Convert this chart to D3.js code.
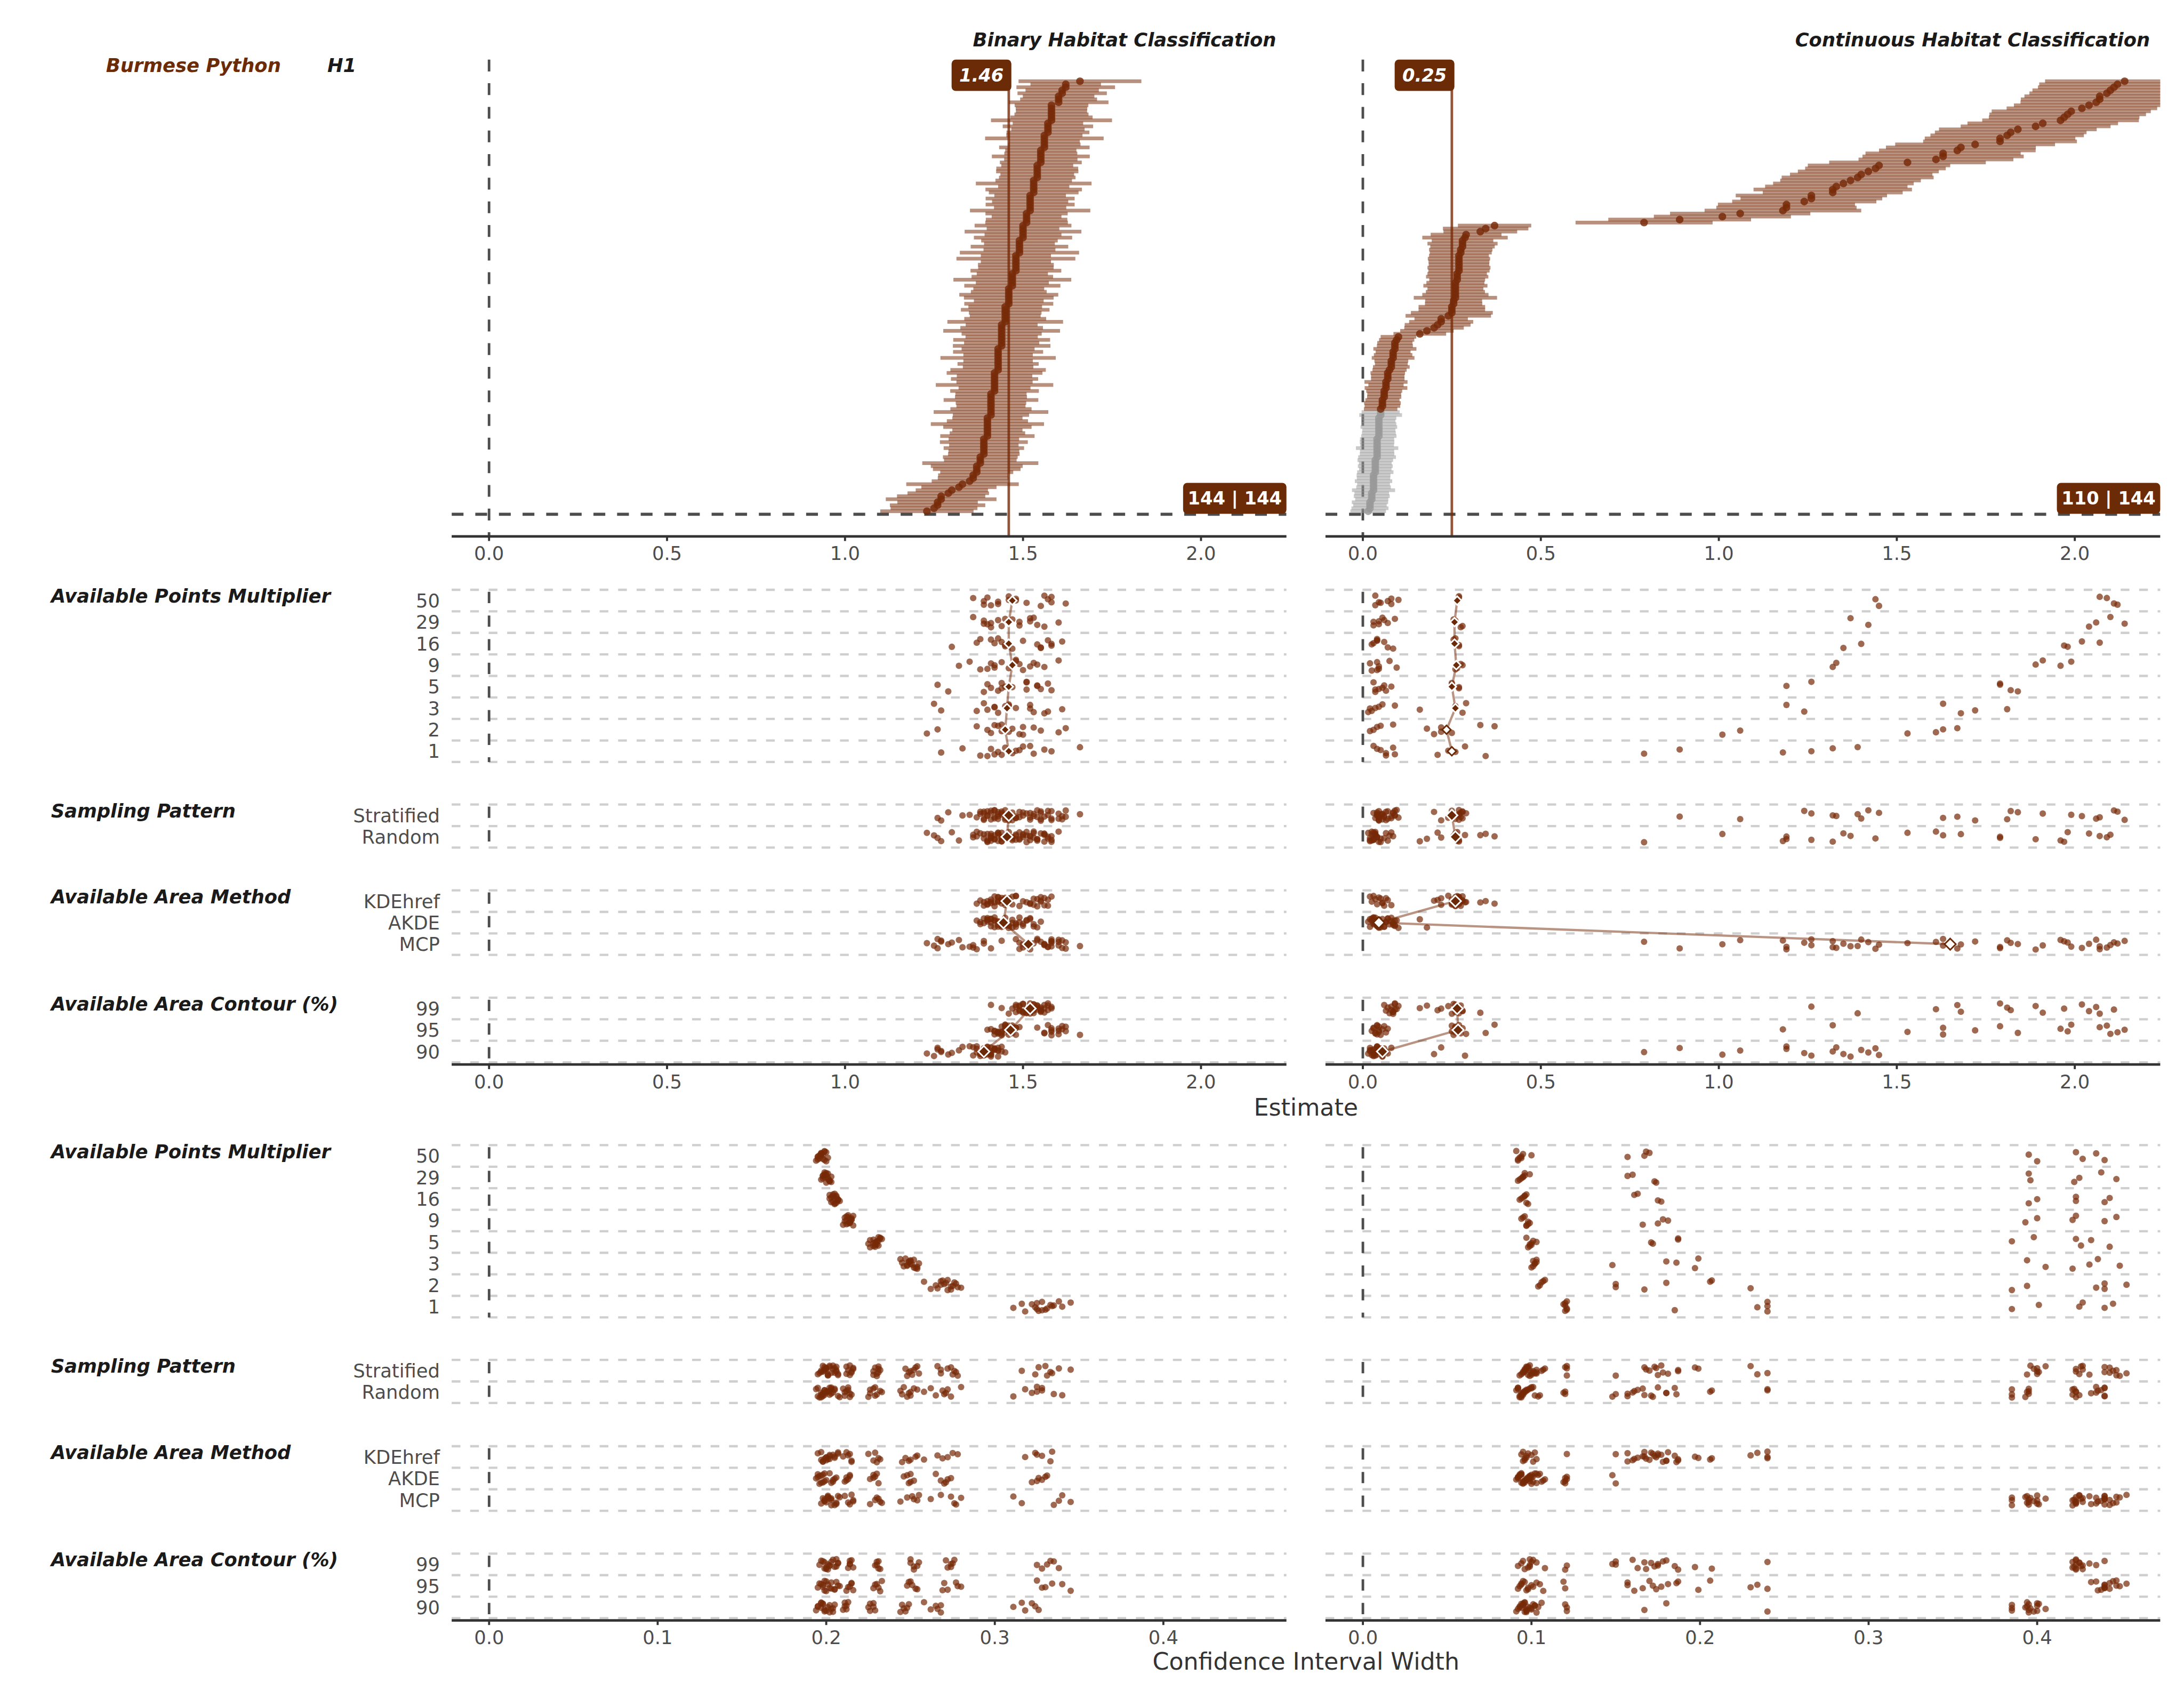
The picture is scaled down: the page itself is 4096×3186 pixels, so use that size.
<!DOCTYPE html>
<html><head><meta charset="utf-8">
<script src="https://cdn.jsdelivr.net/npm/d3@7"></script>
<style>
body{margin:0;background:#fff}
svg{display:block}
text{font-family:"DejaVu Sans",sans-serif}
</style>
</head><body>
<svg id="c" width="4096" height="3186" viewBox="0 0 4251 3307"></svg>
<script>
// ---------------- DATA ----------------
const speciesName = "Burmese Python";
const hypothesis = "H1";
const panelTitles = ["Binary Habitat Classification", "Continuous Habitat Classification"];
const multipliers = ["1", "2", "3", "5", "9", "16", "29", "50"];
const samplings = ["Random", "Stratified"];
const methods = ["MCP", "AKDE", "KDEhref"];
const contours = ["90", "95", "99"];
const overallMedian = [1.46, 0.25];

// each inner array: 16 models ordered multiplier 1,2,3,5,9,16,29,50 x sampling Random,Stratified
// grouped [method][contour]
const binaryEstimate = [
  [ // MCP
    [1.27,1.33,1.23,1.26,1.25,1.27,1.26,1.29,1.32,1.35,1.30,1.37,1.36,1.39,1.36,1.39],
    [1.58,1.66,1.60,1.62,1.56,1.61,1.57,1.58,1.54,1.60,1.58,1.61,1.56,1.60,1.58,1.62],
    [1.49,1.52,1.44,1.50,1.53,1.48,1.51,1.55,1.41,1.50,1.54,1.57,1.49,1.52,1.56,1.58]
  ],
  [ // AKDE
    [1.41,1.38,1.40,1.43,1.37,1.42,1.39,1.41,1.44,1.40,1.42,1.38,1.40,1.43,1.41,1.39],
    [1.45,1.42,1.47,1.44,1.40,1.46,1.43,1.45,1.48,1.42,1.44,1.47,1.41,1.45,1.43,1.46],
    [1.50,1.47,1.53,1.49,1.52,1.46,1.51,1.54,1.48,1.52,1.50,1.55,1.49,1.53,1.51,1.48]
  ],
  [ // KDEhref
    [1.40,1.43,1.37,1.41,1.42,1.39,1.44,1.40,1.38,1.42,1.41,1.45,1.39,1.41,1.43,1.40],
    [1.44,1.48,1.42,1.46,1.45,1.43,1.47,1.44,1.46,1.49,1.43,1.45,1.47,1.44,1.48,1.46],
    [1.53,1.56,1.50,1.55,1.52,1.57,1.54,1.51,1.56,1.53,1.55,1.58,1.52,1.54,1.57,1.55]
  ]
];
const binaryWidth = [
  [
    [0.311,0.316,0.262,0.268,0.244,0.248,0.226,0.229,0.211,0.213,0.203,0.205,0.199,0.201,0.197,0.199],
    [0.340,0.345,0.280,0.277,0.254,0.251,0.233,0.231,0.215,0.216,0.208,0.206,0.203,0.201,0.200,0.198],
    [0.335,0.338,0.274,0.276,0.252,0.255,0.232,0.230,0.214,0.216,0.207,0.206,0.202,0.203,0.199,0.201]
  ],
  [
    [0.322,0.326,0.265,0.268,0.246,0.249,0.226,0.228,0.211,0.212,0.202,0.204,0.197,0.198,0.194,0.195],
    [0.325,0.330,0.270,0.272,0.248,0.250,0.228,0.230,0.212,0.214,0.203,0.205,0.198,0.199,0.195,0.196],
    [0.328,0.331,0.271,0.274,0.250,0.252,0.229,0.231,0.213,0.214,0.204,0.206,0.199,0.200,0.196,0.197]
  ],
  [
    [0.318,0.324,0.258,0.266,0.245,0.247,0.225,0.228,0.210,0.212,0.202,0.204,0.198,0.200,0.195,0.197],
    [0.328,0.334,0.269,0.278,0.249,0.253,0.229,0.232,0.213,0.215,0.205,0.207,0.200,0.202,0.197,0.199],
    [0.325,0.333,0.272,0.275,0.250,0.254,0.230,0.231,0.214,0.215,0.205,0.207,0.201,0.202,0.198,0.200]
  ]
];
const continuousEstimate = [
  [
    [0.79,0.89,1.01,1.06,1.19,1.24,1.19,1.26,1.32,1.33,1.35,1.40,1.37,1.42,1.44,1.45],
    [1.18,1.32,1.53,1.63,1.63,1.72,1.79,1.84,1.96,1.99,1.98,2.07,2.10,2.14,2.09,2.12],
    [1.26,1.39,1.61,1.67,1.68,1.81,1.79,1.82,1.89,1.91,1.97,2.02,2.04,2.06,2.07,2.11]
  ],
  [
    [0.05,0.03,0.02,0.04,0.015,0.035,0.03,0.045,0.02,0.04,0.025,0.04,0.03,0.045,0.035,0.045],
    [0.04,0.065,0.03,0.05,0.025,0.045,0.035,0.055,0.04,0.045,0.03,0.04,0.045,0.06,0.035,0.07],
    [0.085,0.09,0.18,0.085,0.16,0.09,0.065,0.08,0.075,0.095,0.06,0.085,0.07,0.09,0.08,0.10]
  ],
  [
    [0.287,0.065,0.22,0.20,0.02,0.055,0.035,0.06,0.025,0.045,0.04,0.07,0.03,0.055,0.05,0.08],
    [0.345,0.26,0.37,0.25,0.26,0.29,0.27,0.25,0.26,0.28,0.255,0.27,0.26,0.275,0.265,0.27],
    [0.21,0.24,0.33,0.22,0.26,0.28,0.27,0.25,0.265,0.275,0.26,0.27,0.255,0.28,0.265,0.27]
  ]
];
const continuousWidth = [
  [
    [0.385,0.401,0.385,0.394,0.394,0.405,0.385,0.398,0.393,0.400,0.395,0.400,0.395,0.396,0.395,0.400],
    [0.440,0.445,0.440,0.453,0.436,0.449,0.432,0.443,0.440,0.447,0.440,0.443,0.438,0.447,0.435,0.440],
    [0.425,0.427,0.435,0.440,0.421,0.431,0.423,0.426,0.421,0.423,0.423,0.423,0.422,0.425,0.423,0.427]
  ],
  [
    [0.120,0.121,0.104,0.106,0.100,0.102,0.097,0.099,0.094,0.097,0.093,0.096,0.092,0.095,0.091,0.093],
    [0.119,0.120,0.105,0.107,0.101,0.103,0.098,0.100,0.095,0.098,0.094,0.097,0.093,0.096,0.092,0.094],
    [0.120,0.121,0.150,0.108,0.148,0.101,0.099,0.103,0.096,0.099,0.095,0.098,0.094,0.099,0.092,0.100]
  ],
  [
    [0.240,0.121,0.180,0.167,0.102,0.103,0.100,0.101,0.097,0.098,0.096,0.097,0.095,0.096,0.094,0.095],
    [0.240,0.234,0.206,0.230,0.186,0.199,0.172,0.187,0.166,0.181,0.161,0.177,0.157,0.174,0.157,0.170],
    [0.185,0.240,0.207,0.150,0.180,0.197,0.171,0.187,0.175,0.178,0.163,0.175,0.160,0.173,0.167,0.168]
  ]
];

const factorTitles = ["Available Points Multiplier", "Sampling Pattern", "Available Area Method", "Available Area Contour (%)"];
const factorKeys = ["multiplier", "sampling", "method", "contour"];
const factorLevels = [
  ["50", "29", "16", "9", "5", "3", "2", "1"],
  ["Stratified", "Random"],
  ["KDEhref", "AKDE", "MCP"],
  ["99", "95", "90"]
];
// median diamond fill (1 = filled, 0 = hollow), per panel, per factor, per level (top to bottom)
const diamondFilled = [
  [[1,1,1,1,1,1,1,1],[1,1],[1,1,1],[1,1,1]],
  [[1,1,1,1,1,1,0,0],[1,1],[1,0,0],[1,1,1]]
];
const estimateTicks = [0, 0.5, 1, 1.5, 2];
const widthTicks = [0, 0.1, 0.2, 0.3, 0.4];
const estimateDomain = [-0.105, 2.24];
const widthDomain = [-0.0222, 0.473];

// ---------------- LAYOUT ----------------
const svg = d3.select("#c");
const brown = "#762A07", boxBrown = "#6B2B06", darkLine = "#4D4D4D", axisCol = "#333333";
const panelX = [879, 2580], panelW = 1625;
const topY0 = 116, topY1 = 1044;
const estFactorTop = [1148, 1566, 1733, 1942];
const widFactorTop = [2229, 2647, 2815, 3024];
const band = 41.9;
const estAxisY = 2072, widAxisY = 3154;
const fs = 36.7;
const diamondSize = [8.5, 11, 11, 11];

function buildModels(est, wid) {
  const out = [];
  methods.forEach((m, mi) => contours.forEach((c, ci) => {
    for (let k = 0; k < 16; k++) {
      out.push({method: m, contour: c, multiplier: multipliers[Math.floor(k / 2)],
        sampling: samplings[k % 2], est: est[mi][ci][k], width: wid[mi][ci][k]});
    }
  }));
  out.forEach((d, i) => { d.idx = i; d.lo = d.est - d.width / 2; d.hi = d.est + d.width / 2; d.sig = d.lo > 0; });
  return out;
}
const panelModels = [buildModels(binaryEstimate, binaryWidth), buildModels(continuousEstimate, continuousWidth)];

const defs = svg.append("defs");

// Header texts
svg.append("text").attr("x", 206).attr("y", 140).attr("font-size", fs).attr("font-weight", "bold")
  .attr("font-style", "italic").attr("fill", boxBrown).text(speciesName);
svg.append("text").attr("x", 637).attr("y", 140).attr("font-size", fs).attr("font-weight", "bold")
  .attr("font-style", "italic").attr("fill", "#1a1a1a").text(hypothesis);

function jitter(i, f) {
  const v = ((i + 1) * 0.6180339887 + f * 0.2763932) % 1;
  return (v - 0.5) * 0.5 * band;
}

function drawAxis(g, scale, y, ticks, fmt) {
  g.append("line").attr("x1", scale.range()[0]).attr("x2", scale.range()[1])
    .attr("y1", y).attr("y2", y).attr("stroke", axisCol).attr("stroke-width", 5);
  ticks.forEach(t => {
    g.append("line").attr("x1", scale(t)).attr("x2", scale(t)).attr("y1", y).attr("y2", y + 9)
      .attr("stroke", axisCol).attr("stroke-width", 4);
    g.append("text").attr("x", scale(t)).attr("y", y + 46).attr("text-anchor", "middle")
      .attr("font-size", fs).attr("fill", darkLine).text(fmt(t));
  });
}

function drawFactorPanels(g, models, scale, tops, valueKey, withDiamonds, p) {
  factorKeys.forEach((key, f) => {
    const levels = factorLevels[f];
    const top = tops[f];
    const n = levels.length;
    const x0 = scale.range()[0], x1 = scale.range()[1];
    for (let j = 0; j <= n; j++) {
      g.append("line").attr("x1", x0).attr("x2", x1).attr("y1", top + j * band).attr("y2", top + j * band)
        .attr("stroke", "#CFCFCF").attr("stroke-width", 4.5).attr("stroke-dasharray", "17,19");
    }
    g.append("line").attr("x1", scale(0)).attr("x2", scale(0)).attr("y1", top).attr("y2", top + n * band)
      .attr("stroke", darkLine).attr("stroke-width", 5).attr("stroke-dasharray", "22,24").attr("stroke-dashoffset", -4);
    const yc = lev => top + (levels.indexOf(lev) + 0.5) * band;
    g.append("g").selectAll("circle").data(models).join("circle")
      .attr("cx", d => scale(d[valueKey]))
      .attr("cy", d => yc(d[key]) + jitter(d.idx, f + p * 4))
      .attr("r", 6.3).attr("fill", brown).attr("fill-opacity", 0.7);
    if (withDiamonds) {
      const med = levels.map(l => ({lev: l, m: d3.median(models.filter(d => d[key] === l), d => d[valueKey])}));
      g.append("path").attr("d", d3.line().x(d => scale(d.m)).y(d => yc(d.lev))(med))
        .attr("fill", "none").attr("stroke", brown).attr("stroke-opacity", 0.5).attr("stroke-width", 4.5);
      const s = diamondSize[f];
      med.forEach((d, i) => {
        const cx = scale(d.m), cy = yc(d.lev);
        const filled = diamondFilled[p][f][i] === 1;
        g.append("path").attr("d", `M${cx},${cy - s}L${cx + s},${cy}L${cx},${cy + s}L${cx - s},${cy}Z`)
          .attr("fill", filled ? "#6B2A07" : "#ffffff")
          .attr("stroke", filled ? "#ffffff" : "#6B2A07").attr("stroke-width", 3);
      });
    }
  });
}

panelModels.forEach((models, p) => {
  const x0 = panelX[p], x1 = panelX[p] + panelW;
  const xEst = d3.scaleLinear().domain(estimateDomain).range([x0, x1]);
  const xWid = d3.scaleLinear().domain(widthDomain).range([x0, x1]);
  const g = svg.append("g");

  g.append("text").attr("x", x1 - 20).attr("y", 90).attr("text-anchor", "end")
    .attr("font-size", fs).attr("font-weight", "bold").attr("font-style", "italic")
    .attr("fill", "#1a1a1a").text(panelTitles[p]);

  // ---- top panel: sorted estimates with CIs ----
  const sorted = models.slice().sort((a, b) => a.est - b.est);
  sorted.forEach((d, i) => d.row = i + 1);
  const yRow = d3.scaleLinear().domain([-7.35, 151.2]).range([topY1, topY0]);
  const clipId = "clip" + p;
  defs.append("clipPath").attr("id", clipId).append("rect")
    .attr("x", x0).attr("y", topY0 - 10).attr("width", panelW).attr("height", topY1 - topY0 + 10);
  const tg = g.append("g").attr("clip-path", `url(#${clipId})`);
  tg.append("line").attr("x1", xEst(0)).attr("x2", xEst(0)).attr("y1", topY0).attr("y2", topY1)
    .attr("stroke", darkLine).attr("stroke-width", 5).attr("stroke-dasharray", "23,23");
  tg.append("line").attr("x1", x0).attr("x2", x1).attr("y1", yRow(0)).attr("y2", yRow(0))
    .attr("stroke", darkLine).attr("stroke-width", 6).attr("stroke-dasharray", "23,23");
  tg.append("g").selectAll("rect").data(sorted).join("rect")
    .attr("x", d => xEst(d.lo)).attr("width", d => xEst(d.hi) - xEst(d.lo))
    .attr("y", d => yRow(d.row) - 3.6).attr("height", 7.2)
    .attr("fill", d => d.sig ? brown : "#999999").attr("fill-opacity", 0.52);
  tg.append("g").selectAll("circle").data(sorted).join("circle")
    .attr("cx", d => xEst(d.est)).attr("cy", d => yRow(d.row)).attr("r", 7.5)
    .attr("fill", d => d.sig ? brown : "#999999").attr("fill-opacity", 0.82);
  const mx = xEst(overallMedian[p]);
  g.append("line").attr("x1", mx).attr("x2", mx).attr("y1", 170).attr("y2", topY1)
    .attr("stroke", brown).attr("stroke-opacity", 0.8).attr("stroke-width", 5);
  const lt = g.append("text").attr("font-size", 35).attr("font-weight", "bold").attr("font-style", "italic")
    .attr("fill", "#fff").attr("text-anchor", "middle").text(d3.format(".2f")(overallMedian[p]));
  const lw = lt.node().getComputedTextLength() + 30;
  g.append("rect").attr("x", mx + 5 - lw).attr("y", 116).attr("width", lw).attr("height", 61)
    .attr("rx", 8).attr("fill", boxBrown);
  lt.attr("x", mx + 5 - lw / 2).attr("y", 159).raise();
  const nSig = models.filter(d => d.sig).length;
  const ct = g.append("text").attr("font-size", 35).attr("font-weight", "bold")
    .attr("fill", "#fff").attr("text-anchor", "middle").text(`${nSig} | ${models.length}`);
  const cw = ct.node().getComputedTextLength() + 18;
  g.append("rect").attr("x", x1 - cw).attr("y", 940).attr("width", cw).attr("height", 60)
    .attr("rx", 8).attr("fill", boxBrown);
  ct.attr("x", x1 - cw / 2).attr("y", 982).raise();
  drawAxis(g, xEst, topY1, estimateTicks, d3.format(".1f"));

  drawFactorPanels(g, models, xEst, estFactorTop, "est", true, p);
  drawAxis(g, xEst, estAxisY, estimateTicks, d3.format(".1f"));

  drawFactorPanels(g, models, xWid, widFactorTop, "width", false, p);
  drawAxis(g, xWid, widAxisY, widthTicks, d3.format(".1f"));
});

[estFactorTop, widFactorTop].forEach(tops => {
  factorTitles.forEach((t, f) => {
    svg.append("text").attr("x", 99).attr("y", tops[f] + 25).attr("font-size", fs)
      .attr("font-weight", "bold").attr("font-style", "italic").attr("fill", "#1a1a1a").text(t);
    factorLevels[f].forEach((lev, i) => {
      svg.append("text").attr("x", 856).attr("y", tops[f] + (i + 0.5) * band).attr("dy", "0.36em")
        .attr("text-anchor", "end").attr("font-size", fs).attr("fill", darkLine).text(lev);
    });
  });
});

svg.append("text").attr("x", 2542).attr("y", 2171).attr("text-anchor", "middle")
  .attr("font-size", 46).attr("fill", "#333").text("Estimate");
svg.append("text").attr("x", 2542).attr("y", 3250).attr("text-anchor", "middle")
  .attr("font-size", 46).attr("fill", "#333").text("Confidence Interval Width");
</script>
</body></html>
